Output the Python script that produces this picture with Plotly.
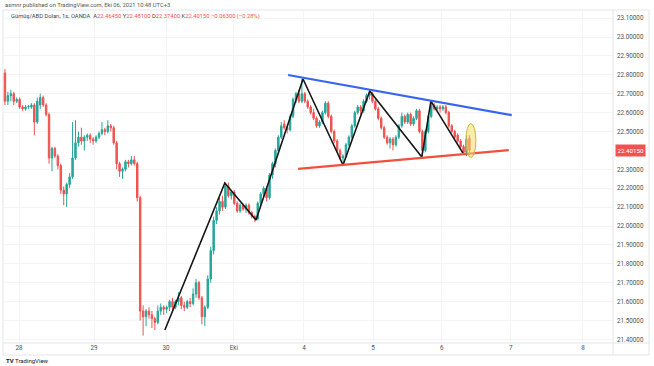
import plotly.graph_objects as go

# ---------------- data (hourly candles, XAG/USD) ----------------
opens = [
22.81,22.66,22.69,22.70,22.66,22.67,22.63,22.62,22.63,22.63,
22.64,22.55,22.64,22.68,22.64,22.59,22.36,22.41,22.37,22.32,
22.19,22.17,22.22,22.26,22.36,22.44,22.47,22.45,22.47,22.48,
22.46,22.45,22.47,22.49,22.51,22.50,22.53,22.52,22.44,22.33,
22.29,22.30,22.34,22.33,22.35,22.33,22.15,21.55,21.52,21.55,
21.53,21.51,21.49,21.55,21.57,21.56,21.57,21.60,21.57,21.60,
21.62,21.58,21.57,21.60,21.59,21.64,21.70,21.62,21.52,21.57,
21.72,21.87,22.03,22.08,22.13,22.10,22.21,22.16,22.18,22.12,
22.08,22.11,22.09,22.11,22.07,22.05,22.04,22.12,22.17,22.20,
22.15,22.27,22.33,22.40,22.47,22.54,22.52,22.51,22.58,22.67,
22.70,22.66,22.70,22.66,22.63,22.60,22.57,22.53,22.55,22.60,
22.65,22.58,22.50,22.45,22.40,22.36,22.37,22.43,22.47,22.53,
22.60,22.63,22.61,22.66,22.69,22.70,22.66,22.62,22.57,22.52,
22.47,22.44,22.46,22.43,22.47,22.53,22.58,22.55,22.59,22.54,
22.57,22.61,22.50,22.40,22.50,22.58,22.64,22.62,22.63,22.62,
22.63,22.60,22.53,22.50,22.48,22.45,22.42,22.39,22.4645]
highs = [
22.83,22.71,22.72,22.71,22.68,22.68,22.64,22.64,22.64,22.65,
22.65,22.68,22.70,22.69,22.65,22.60,22.42,22.42,22.38,22.33,
22.21,22.23,22.28,22.55,22.56,22.50,22.52,22.48,22.49,22.49,
22.47,22.48,22.50,22.55,22.52,22.56,22.54,22.53,22.45,22.34,
22.31,22.35,22.35,22.37,22.37,22.34,22.16,21.58,21.56,21.57,
21.55,21.52,21.58,21.59,21.58,21.58,21.61,21.62,21.61,21.65,
21.63,21.60,21.61,21.62,21.67,21.72,21.71,21.63,21.58,21.74,
21.89,22.05,22.10,22.15,22.16,22.23,22.23,22.19,22.19,22.13,
22.12,22.12,22.12,22.12,22.08,22.06,22.13,22.18,22.21,22.21,
22.28,22.34,22.41,22.48,22.55,22.56,22.53,22.59,22.68,22.71,
22.72,22.78,22.71,22.67,22.64,22.62,22.58,22.56,22.61,22.66,
22.66,22.59,22.51,22.46,22.41,22.38,22.44,22.48,22.54,22.61,
22.64,22.64,22.67,22.70,22.72,22.71,22.67,22.63,22.58,22.53,
22.48,22.47,22.47,22.48,22.54,22.60,22.59,22.60,22.60,22.58,
22.62,22.62,22.51,22.51,22.59,22.66,22.65,22.64,22.64,22.64,
22.64,22.61,22.54,22.51,22.49,22.46,22.43,22.48,22.481]
lows = [
22.64,22.64,22.66,22.64,22.65,22.62,22.61,22.61,22.62,22.62,
22.48,22.54,22.62,22.63,22.58,22.33,22.29,22.36,22.30,22.17,
22.11,22.10,22.20,22.25,22.35,22.42,22.43,22.40,22.45,22.44,
22.43,22.44,22.46,22.48,22.48,22.49,22.50,22.43,22.30,22.26,
22.25,22.29,22.31,22.32,22.32,22.13,21.50,21.42,21.47,21.51,
21.46,21.45,21.48,21.53,21.53,21.54,21.55,21.55,21.56,21.58,
21.56,21.55,21.56,21.57,21.58,21.62,21.61,21.48,21.47,21.56,
21.70,21.85,22.01,22.06,22.08,22.09,22.15,22.14,22.11,22.07,
22.07,22.08,22.07,22.06,22.04,22.02,22.03,22.11,22.15,22.13,
22.14,22.25,22.31,22.38,22.46,22.51,22.49,22.50,22.57,22.65,
22.65,22.65,22.65,22.62,22.59,22.56,22.52,22.52,22.54,22.59,
22.57,22.49,22.44,22.39,22.35,22.32,22.36,22.42,22.46,22.52,
22.59,22.59,22.60,22.65,22.67,22.65,22.61,22.56,22.51,22.46,
22.43,22.41,22.40,22.42,22.46,22.52,22.54,22.54,22.53,22.53,
22.56,22.49,22.37,22.39,22.49,22.57,22.61,22.61,22.60,22.61,
22.59,22.52,22.49,22.46,22.44,22.41,22.38,22.37,22.374]
closes = [
22.66,22.69,22.70,22.66,22.67,22.63,22.62,22.63,22.632,22.64,
22.55,22.66,22.68,22.64,22.59,22.36,22.41,22.37,22.32,22.19,
22.17,22.22,22.26,22.36,22.44,22.47,22.45,22.47,22.48,22.46,
22.45,22.47,22.49,22.51,22.50,22.53,22.52,22.44,22.33,22.29,
22.30,22.34,22.33,22.35,22.33,22.15,21.55,21.52,21.55,21.53,
21.51,21.49,21.55,21.57,21.56,21.57,21.60,21.57,21.60,21.62,
21.58,21.57,21.60,21.59,21.64,21.70,21.62,21.52,21.57,21.72,
21.87,22.03,22.08,22.13,22.10,22.21,22.16,22.18,22.12,22.08,
22.11,22.09,22.11,22.07,22.05,22.04,22.12,22.17,22.20,22.15,
22.27,22.33,22.40,22.47,22.53,22.52,22.51,22.58,22.67,22.70,
22.66,22.70,22.66,22.63,22.60,22.57,22.53,22.55,22.60,22.65,
22.58,22.50,22.45,22.40,22.36,22.37,22.43,22.47,22.53,22.60,
22.63,22.61,22.66,22.69,22.70,22.66,22.62,22.57,22.52,22.47,
22.44,22.46,22.43,22.47,22.53,22.58,22.55,22.59,22.54,22.57,
22.61,22.50,22.40,22.50,22.58,22.64,22.62,22.63,22.62,22.63,
22.60,22.53,22.50,22.47,22.45,22.42,22.39,22.46,22.4015]
candle_idx = list(range(len(closes)))

# day labels on the time axis (positions in candle-index units)
day_pos = [4.8, 30.3, 54.8, 77.9, 101.7, 125.2, 148.6, 172.1, 196.6]
day_labels = ["28", "29", "30", "Eki", "4", "5", "6", "7", "8"]

price_ticks = [21.4, 21.5, 21.6, 21.7, 21.8, 21.9, 22.0, 22.1, 22.2, 22.3,
               22.5, 22.6, 22.7, 22.8, 22.9, 23.0, 23.1]
last_price = 22.4015

# drawings
zigzag_x = [54.4, 74.8, 85.4, 101.4, 115.0, 124.1, 141.8, 144.9, 155.8]
zigzag_y = [21.450, 22.228, 22.032, 22.778, 22.323, 22.714, 22.365, 22.661, 22.386]
resist_x = [96.3, 172.4]
resist_y = [22.799, 22.587]
support_x = [99.7, 171.4]
support_y = [22.302, 22.402]
mark_x = [156.8, 160.2]
mark_y = [22.362, 22.542]

UP = "#26a69a"
DOWN = "#ef5350"
FONT = "Roboto"

fig = go.Figure()
fig.add_trace(go.Candlestick(
    x=candle_idx, open=opens, high=highs, low=lows, close=closes,
    increasing=dict(line=dict(color=UP, width=1), fillcolor=UP),
    decreasing=dict(line=dict(color=DOWN, width=1), fillcolor=DOWN),
    whiskerwidth=0, showlegend=False, hoverinfo="skip"))
fig.add_trace(go.Scatter(x=zigzag_x, y=zigzag_y, mode="lines",
                         line=dict(color="#161616", width=1.6), showlegend=False, hoverinfo="skip"))
fig.add_trace(go.Scatter(x=resist_x, y=resist_y, mode="lines",
                         line=dict(color="#3766ee", width=2.2), showlegend=False, hoverinfo="skip"))
fig.add_trace(go.Scatter(x=support_x, y=support_y, mode="lines",
                         line=dict(color="#f2503c", width=2.2), showlegend=False, hoverinfo="skip"))

fig.add_shape(type="circle", xref="x", yref="y",
              x0=mark_x[0], x1=mark_x[1], y0=mark_y[0], y1=mark_y[1],
              fillcolor="rgba(246,222,100,0.55)", line=dict(color="#c9b548", width=1))

W, H = 654, 366
L, R, T, B = 2, 42, 10, 23
pw, ph = W - L - R, H - T - B


def px(x):
    return (x - L) / pw


def py(y):
    return (H - B - y) / ph


border = "#e3e5ea"
for (x0, y0, x1, y1) in [(3, 10, 649, 10), (3, 343, 649, 343), (3, 355, 649, 355),
                         (613, 10, 613, 355), (649, 10, 649, 355), (3, 10, 3, 355)]:
    fig.add_shape(type="line", xref="paper", yref="paper",
                  x0=px(x0), x1=px(x1), y0=py(y0), y1=py(y1),
                  line=dict(color=border, width=1), layer="below")

red = "#ef5350"
hdr2 = ("Gümüş/ABD Doları, 1s, OANDA&nbsp;&nbsp;"
        f"A<span style='color:{red}'>22.46450</span>&nbsp;"
        f"Y<span style='color:{red}'>22.48100</span>&nbsp;"
        f"D<span style='color:{red}'>22.37400</span>&nbsp;"
        f"K<span style='color:{red}'>22.40150</span>&nbsp;"
        f"<span style='color:{red}'>−0.06300 (−0.28%)</span>")

fig.add_annotation(xref="paper", yref="paper", x=px(3), y=py(4.5), xanchor="left", yanchor="middle",
                   text="asmnr published on TradingView.com, Eki 06, 2021 10:48 UTC+3",
                   showarrow=False, font=dict(family=FONT, size=5.8, color="#555"))
fig.add_annotation(xref="paper", yref="paper", x=px(9), y=py(17), xanchor="left", yanchor="middle",
                   text=hdr2, showarrow=False, font=dict(family=FONT, size=5.8, color="#444"))
fig.add_annotation(xref="paper", yref="paper", x=px(4), y=py(361), xanchor="left", yanchor="middle",
                   text="<b>TV</b> TradingView", showarrow=False,
                   font=dict(family=FONT, size=6, color="#131722"))
fig.add_annotation(xref="paper", yref="y", x=px(615), y=last_price, xanchor="left", yanchor="middle",
                   text="22.40150", showarrow=False, bgcolor=red, borderpad=1.5,
                   font=dict(family=FONT, size=6.2, color="white"))

fig.update_layout(
    width=W, height=H, autosize=False,
    margin=dict(l=L, r=R, t=T, b=B, pad=0),
    paper_bgcolor="white", plot_bgcolor="white",
    showlegend=False,
    font=dict(family=FONT, size=6.3, color="#505050"),
    xaxis=dict(range=[-1.0, 206.5], tickvals=day_pos, ticktext=day_labels,
               showgrid=True, gridcolor="#f4f4f6", zeroline=False, showline=False,
               ticks="", rangeslider=dict(visible=False), fixedrange=True,
               tickfont=dict(size=6.3, color="#505050")),
    yaxis=dict(range=[21.381, 23.143], side="right", tickvals=price_ticks,
               tickformat=".5f", showgrid=True, gridcolor="#f4f4f6", zeroline=False,
               showline=False, ticks="", ticklabelstandoff=4, fixedrange=True,
               tickfont=dict(size=6.3, color="#505050")),
)

fig.write_html("out.html", config={"displayModeBar": False},
               post_script="document.body.style.margin='0';document.body.style.overflow='hidden';")
